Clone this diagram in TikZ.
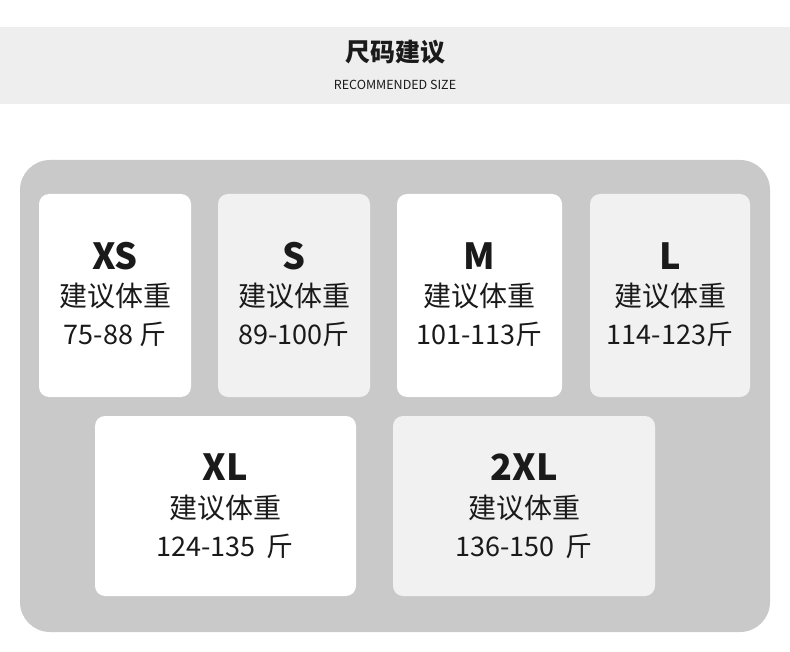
\documentclass[tikz,border=0pt]{standalone}
\usepackage{fontspec}
\setmainfont{Noto Sans CJK SC}
\definecolor{band}{HTML}{EEEEEE}
\definecolor{panel}{HTML}{C9C9C9}
\definecolor{light}{HTML}{F1F1F1}
\definecolor{txt}{HTML}{1A1A1A}
\begin{document}
\begin{tikzpicture}[x=1pt,y=-1pt,
  box/.style={rounded corners=10pt},
  lab/.style={font=\fontsize{36}{36}\selectfont\bfseries,text=txt},
  sub/.style={font=\fontsize{28}{28}\selectfont,text=txt},
  rng/.style={font=\fontsize{27}{27}\selectfont,text=txt}]
\useasboundingbox[fill=white] (0,0) rectangle (790,652);
\fill[band] (0,27) rectangle (790,104);
\node[font=\fontsize{25}{25}\selectfont\bfseries,text=txt] (title) at (395,52) {尺码建议};
\node[font=\fontsize{12.5}{12.5}\selectfont,text=txt] (en) at (395,85) {RECOMMENDED SIZE};
\fill[panel,rounded corners=30pt] (20,160) rectangle (770,632);
\def\card#1#2#3#4#5#6#7#8{%
  \fill[box,#5] (#1,#2) rectangle (#3,#4);
  \node[lab] (#6) at ({(#1+#3)/2},{#2+62}) {#7};
  \node[sub] (#6s) at ({(#1+#3)/2},{#2+102}) {建议体重};
  \node[rng] (#6r) at ({(#1+#3)/2},{#2+140}) {#8};}
\card{39}{194}{191}{397}{white}{xs}{XS}{75-88 斤}
\card{218}{194}{370}{397}{light}{s}{S}{89-100斤}
\card{397}{194}{562}{397}{white}{m}{M}{101-113斤}
\card{590}{194}{750}{397}{light}{l}{L}{114-123斤}
\fill[box,white] (95,416) rectangle (356,596);
\node[lab] (xl) at (225,467) {XL};
\node[sub] (xls) at (225,508) {建议体重};
\node[rng] (xlr) at (225,546) {124-135 \,斤};
\fill[box,light] (393,416) rectangle (655,596);
\node[lab] (xxl) at (524,467) {2XL};
\node[sub] (xxls) at (524,508) {建议体重};
\node[rng] (xxlr) at (524,546) {136-150 \,斤};
\end{tikzpicture}
\end{document}
